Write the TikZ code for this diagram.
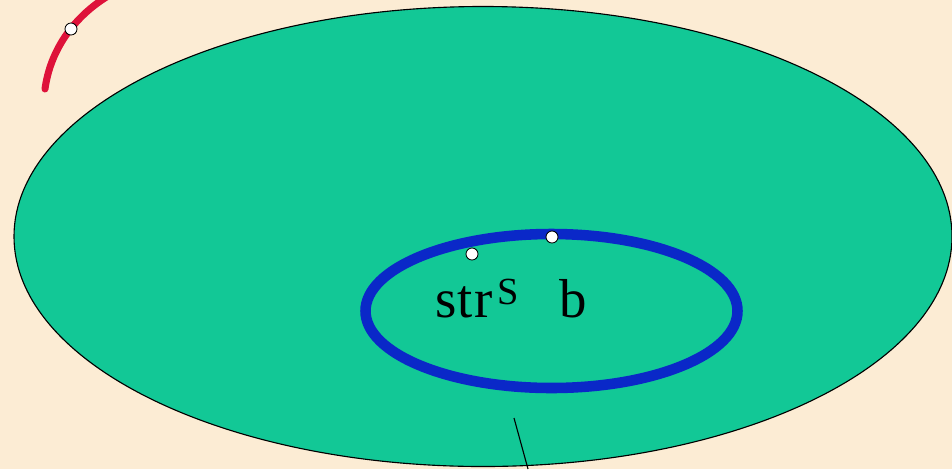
\documentclass[tikz,border=0pt]{standalone}
\usepackage{fontspec}
\setmainfont{Liberation Serif}
\definecolor{bgbeige}{RGB}{252,236,212}
\definecolor{setgreen}{RGB}{18,200,150}
\definecolor{orbitblue}{RGB}{10,40,200}
\definecolor{pathred}{RGB}{222,18,58}
\begin{document}
\begin{tikzpicture}[x=0.025cm, y=-0.025cm,
    dot/.style={circle, draw, fill=white, line width=0.6pt, inner sep=0pt, minimum size=0.3cm},
    lbl/.style={inner sep=0pt, font=\fontsize{39}{42}\selectfont}]

    \fill[bgbeige] (0, 0) rectangle (952, 469);
    \useasboundingbox (0, 0) rectangle (952, 469);

    \begin{scope}
    \clip (0, 0) rectangle (952, 469);
    \draw[fill=setgreen, line width=0.8pt] (483, 236.5) ellipse [x radius=469, y radius=230];
    \draw[orbitblue, line width=7.5pt] (551.5, 311) ellipse [x radius=186, y radius=77];
    \draw[pathred, line width=5pt, line cap=round] (45, 89) .. controls (50, 52) and (72, 18) .. (108, -4);
    \end{scope}

    \node (r0) [dot] at (71, 29) {};
    \node (s0) [dot] at (472, 254) {};
    \node (b0) [dot] at (552, 237) {};

    \node (strs) [lbl, anchor=base west] at (435, 317) {s\kern1pt t\kern1pt r\kern3pt\textsuperscript{S}};
    \node (bl) [lbl, anchor=base west] at (559, 317) {b};

    \coordinate (t0) at (514, 418);
    \coordinate (t1) at (528, 469);
    \draw[line width=0.8pt] (t0) -- (t1);
\end{tikzpicture}
\end{document}
